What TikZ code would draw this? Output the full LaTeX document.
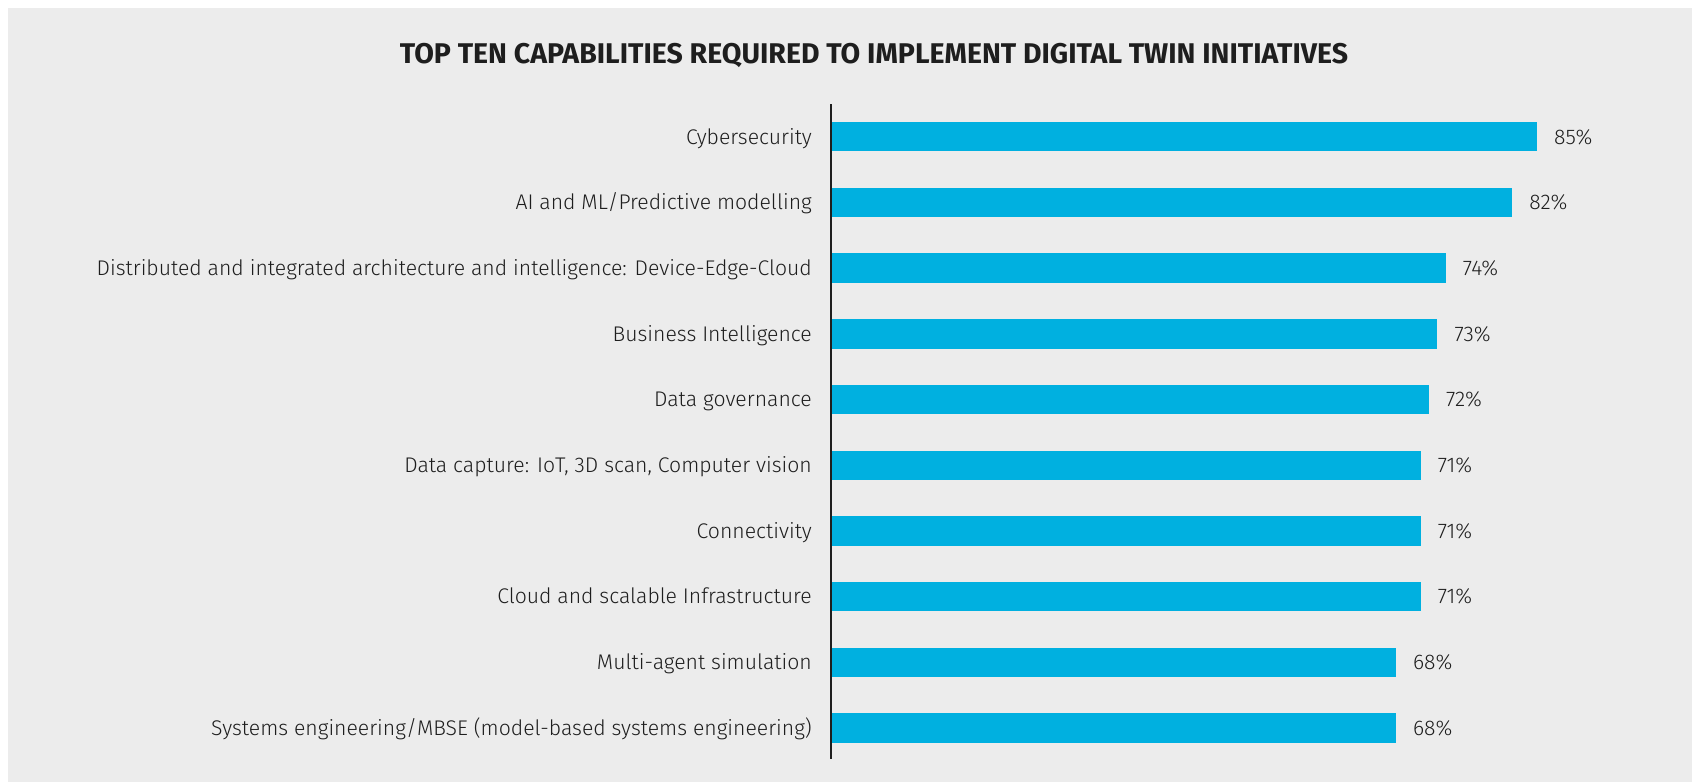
\documentclass[tikz,border=0pt]{standalone}
\usepackage{fontspec}
\setmainfont{Fira Sans}
\newfontfamily\lightfont{Fira Sans Light}
\usepackage{xcolor}
\usepackage{tikz}
\definecolor{panelgrey}{HTML}{ECECEC}
\definecolor{barblue}{HTML}{00B0E0}
\definecolor{inkgrey}{HTML}{1E1E1E}
\tikzset{
  bar/.style={fill=barblue},
  capname/.style={anchor=base east, inner sep=0pt, text=inkgrey,
    font=\lightfont\fontsize{21.2}{25}\selectfont},
  share/.style={anchor=base west, inner sep=0pt, text=inkgrey,
    font=\lightfont\fontsize{21.2}{25}\selectfont},
}

\begin{document}
\begin{tikzpicture}[x=1pt, y=-1pt]
  \useasboundingbox (0, 0) rectangle (1692, 782);
  \fill[panelgrey] (8, 8) rectangle (1692, 782);

  % Title
  \node[anchor=base, inner sep=0pt, text=inkgrey,
    font=\fontsize{28.5}{34}\selectfont\bfseries] (title) at (874, 63.5)
    {TOP TEN CAPABILITIES REQUIRED TO IMPLEMENT DIGITAL TWIN INITIATIVES};

  % Bars (8.306 px per percent, zero at x = 831)
  \fill[bar] (831, 122.0) rectangle (1537.0, 151.4);
  \fill[bar] (831, 187.7) rectangle (1512.1, 217.1);
  \fill[bar] (831, 253.4) rectangle (1445.6, 282.8);
  \fill[bar] (831, 319.1) rectangle (1437.3, 348.5);
  \fill[bar] (831, 384.8) rectangle (1429.0, 414.2);
  \fill[bar] (831, 450.5) rectangle (1420.7, 479.9);
  \fill[bar] (831, 516.2) rectangle (1420.7, 545.6);
  \fill[bar] (831, 581.9) rectangle (1420.7, 611.3);
  \fill[bar] (831, 647.6) rectangle (1395.8, 677.0);
  \fill[bar] (831, 713.3) rectangle (1395.8, 742.7);

  % Capability names
  \node[capname] (c1) at (812, 144.0) {Cybersecurity};
  \node[capname] (c2) at (812, 209.7) {AI and ML/Predictive modelling};
  \node[capname] (c3) at (812, 275.4) {Distributed and integrated architecture and intelligence: Device-Edge-Cloud};
  \node[capname] (c4) at (812, 341.1) {Business Intelligence\ };
  \node[capname] (c5) at (812, 406.8) {Data governance};
  \node[capname] (c6) at (812, 472.5) {Data capture: IoT, 3D scan, Computer vision};
  \node[capname] (c7) at (812, 538.2) {Connectivity};
  \node[capname] (c8) at (812, 603.9) {Cloud and scalable Infrastructure};
  \node[capname] (c9) at (812, 669.6) {Multi-agent simulation};
  \node[capname] (c10) at (812, 735.3) {Systems engineering/MBSE (model-based systems engineering)};

  % Percentages
  \node[share] (p1) at (1554.0, 144.0) {85\%};
  \node[share] (p2) at (1529.1, 209.7) {82\%};
  \node[share] (p3) at (1462.6, 275.4) {74\%};
  \node[share] (p4) at (1454.3, 341.1) {73\%};
  \node[share] (p5) at (1446.0, 406.8) {72\%};
  \node[share] (p6) at (1437.7, 472.5) {71\%};
  \node[share] (p7) at (1437.7, 538.2) {71\%};
  \node[share] (p8) at (1437.7, 603.9) {71\%};
  \node[share] (p9) at (1412.8, 669.6) {68\%};
  \node[share] (p10) at (1412.8, 735.3) {68\%};

  % Axis
  \draw[line width=2pt, inkgrey] (831, 104) -- (831, 759);
\end{tikzpicture}
\end{document}
